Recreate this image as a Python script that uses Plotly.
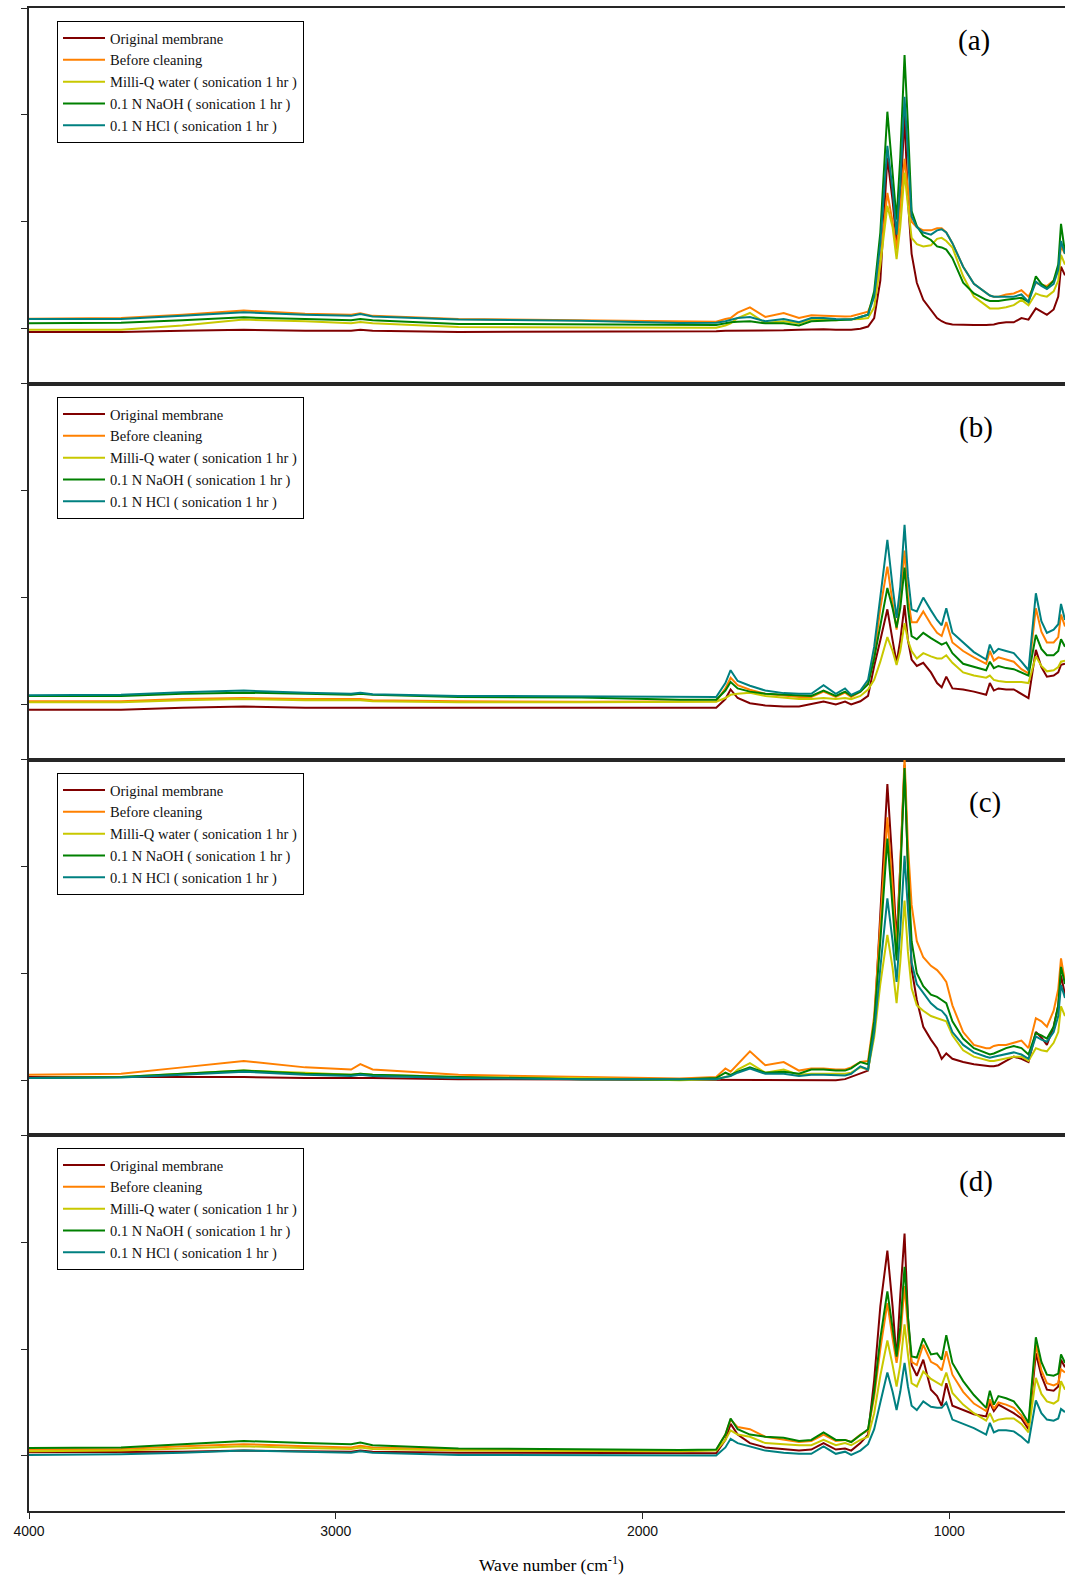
import plotly.graph_objects as go
from plotly.subplots import make_subplots

# ---------------- data ----------------
WAVENUMBER = [4000, 3700, 3500, 3300, 3100, 2950, 2920, 2880, 2600, 2200,
              1880, 1760, 1730, 1713, 1690, 1650, 1600, 1540, 1490, 1450,
              1410, 1370, 1340, 1320, 1290, 1265, 1245, 1225, 1202, 1185,
              1172, 1160, 1146, 1135, 1123, 1106, 1085, 1060, 1040, 1025,
              1010, 990, 955, 920, 880, 868, 855, 840, 815, 790,
              765, 742, 718, 700, 682, 660, 645, 636, 623]

SERIES_NAMES = ["Original membrane", "Before cleaning", "Milli-Q water ( sonication 1 hr )",
                "0.1 N NaOH ( sonication 1 hr )", "0.1 N HCl ( sonication 1 hr )"]
PANEL_LABELS = ["(a)", "(b)", "(c)", "(d)"]
X_TICKS = [4000, 3000, 2000, 1000]

# Panel (a)
A_ORIGINAL = [-0.03, -0.03, -0.02, -0.01, -0.02, -0.02, -0.01, -0.02, -0.03, -0.03,
              -0.025, -0.025, -0.02, -0.02, -0.02, -0.02, -0.02, -0.015, -0.01, -0.006,
              -0.006, -0.01, -0.01, -0.01, 0.0, 0.02, 0.1, 0.45, 1.6, 1.2,
              0.8, 1.2, 1.99, 1.2, 0.7, 0.43, 0.27, 0.17, 0.1, 0.07,
              0.05, 0.04, 0.035, 0.035, 0.035, 0.035, 0.04, 0.05, 0.06, 0.06,
              0.1, 0.085, 0.19, 0.16, 0.13, 0.18, 0.3, 0.58, 0.5]
A_BEFORE = [0.094, 0.10, 0.13, 0.17, 0.14, 0.13, 0.144, 0.12, 0.09, 0.075,
            0.063, 0.065, 0.09, 0.10, 0.15, 0.20, 0.11, 0.147, 0.10, 0.125,
            0.12, 0.115, 0.115, 0.116, 0.14, 0.16, 0.30, 0.65, 1.27, 1.0,
            0.74, 1.1, 1.59, 1.3, 1.0, 0.95, 0.92, 0.92, 0.94, 0.94,
            0.9, 0.8, 0.58, 0.42, 0.33, 0.31, 0.30, 0.30, 0.32, 0.33,
            0.36, 0.30, 0.43, 0.41, 0.40, 0.45, 0.55, 0.77, 0.70]
A_MILLIQ = [-0.01, -0.01, 0.03, 0.085, 0.07, 0.05, 0.063, 0.05, 0.015, 0.012,
            0.006, 0.01, 0.03, 0.05, 0.10, 0.147, 0.053, 0.07, 0.05, 0.085,
            0.085, 0.08, 0.085, 0.085, 0.09, 0.10, 0.20, 0.60, 1.15, 0.95,
            0.65, 0.95, 1.46, 1.15, 0.85, 0.79, 0.77, 0.78, 0.84, 0.85,
            0.82, 0.76, 0.49, 0.30, 0.21, 0.19, 0.19, 0.19, 0.20, 0.22,
            0.27, 0.22, 0.33, 0.31, 0.30, 0.35, 0.45, 0.69, 0.60]
A_NAOH = [0.05, 0.055, 0.08, 0.106, 0.09, 0.08, 0.09, 0.08, 0.045, 0.04,
          0.031, 0.035, 0.05, 0.06, 0.065, 0.069, 0.05, 0.05, 0.03, 0.069,
          0.075, 0.08, 0.085, 0.085, 0.11, 0.13, 0.35, 0.90, 2.03, 1.5,
          1.02, 1.6, 2.56, 1.9, 1.1, 0.96, 0.87, 0.83, 0.77, 0.76,
          0.74, 0.66, 0.43, 0.33, 0.27, 0.26, 0.26, 0.26, 0.27, 0.28,
          0.29, 0.25, 0.49, 0.42, 0.38, 0.45, 0.60, 0.98, 0.71]
A_HCL = [0.09, 0.09, 0.12, 0.153, 0.13, 0.12, 0.138, 0.115, 0.085, 0.075,
         0.053, 0.055, 0.07, 0.08, 0.10, 0.11, 0.069, 0.09, 0.06, 0.10,
         0.10, 0.09, 0.085, 0.085, 0.11, 0.13, 0.30, 0.80, 1.71, 1.3,
         0.88, 1.35, 2.17, 1.6, 1.05, 0.95, 0.90, 0.88, 0.92, 0.93,
         0.90, 0.80, 0.58, 0.42, 0.33, 0.31, 0.30, 0.30, 0.30, 0.30,
         0.32, 0.25, 0.44, 0.40, 0.37, 0.42, 0.55, 0.82, 0.70]

# Panel (b)
B_ORIGINAL = [-0.05, -0.05, -0.03, -0.02, -0.03, -0.03, -0.025, -0.03, -0.03, -0.03,
              -0.03, -0.03, 0.05, 0.14, 0.06, 0.012, -0.01, -0.02, -0.02, 0.0,
              0.027, 0.0, 0.027, 0.0, 0.03, 0.08, 0.36, 0.60, 0.89, 0.60,
              0.39, 0.60, 0.93, 0.60, 0.42, 0.36, 0.39, 0.30, 0.20, 0.16,
              0.26, 0.15, 0.14, 0.12, 0.09, 0.20, 0.13, 0.15, 0.14, 0.14,
              0.10, 0.06, 0.51, 0.35, 0.26, 0.27, 0.30, 0.37, 0.38]
B_BEFORE = [0.03, 0.03, 0.05, 0.06, 0.05, 0.045, 0.05, 0.04, 0.03, 0.025,
            0.027, 0.03, 0.15, 0.25, 0.18, 0.137, 0.10, 0.08, 0.07, 0.07,
            0.12, 0.07, 0.11, 0.07, 0.12, 0.20, 0.45, 0.90, 1.29, 0.95,
            0.70, 1.00, 1.44, 1.00, 0.77, 0.77, 0.87, 0.75, 0.67, 0.64,
            0.77, 0.58, 0.50, 0.44, 0.38, 0.50, 0.41, 0.44, 0.42, 0.40,
            0.33, 0.29, 0.90, 0.68, 0.58, 0.58, 0.63, 0.84, 0.73]
B_MILLIQ = [0.02, 0.02, 0.04, 0.05, 0.04, 0.035, 0.04, 0.03, 0.02, 0.02,
            0.02, 0.025, 0.06, 0.09, 0.10, 0.11, 0.08, 0.06, 0.05, 0.05,
            0.06, 0.05, 0.06, 0.05, 0.08, 0.14, 0.23, 0.40, 0.63, 0.50,
            0.37, 0.50, 0.76, 0.60, 0.50, 0.43, 0.48, 0.45, 0.43, 0.43,
            0.46, 0.39, 0.30, 0.27, 0.25, 0.27, 0.23, 0.22, 0.21, 0.21,
            0.21, 0.20, 0.45, 0.36, 0.31, 0.32, 0.35, 0.40, 0.41]
B_NAOH = [0.08, 0.08, 0.10, 0.11, 0.10, 0.09, 0.10, 0.09, 0.07, 0.065,
          0.043, 0.045, 0.13, 0.21, 0.15, 0.12, 0.10, 0.09, 0.08, 0.08,
          0.13, 0.08, 0.12, 0.08, 0.12, 0.19, 0.43, 0.75, 1.09, 0.90,
          0.72, 0.90, 1.28, 0.90, 0.64, 0.61, 0.67, 0.62, 0.59, 0.56,
          0.58, 0.48, 0.38, 0.35, 0.32, 0.40, 0.34, 0.36, 0.34, 0.33,
          0.30, 0.27, 0.65, 0.52, 0.46, 0.46, 0.50, 0.61, 0.54]
B_HCL = [0.085, 0.09, 0.115, 0.13, 0.11, 0.10, 0.11, 0.095, 0.08, 0.075,
         0.065, 0.07, 0.20, 0.32, 0.22, 0.175, 0.13, 0.106, 0.10, 0.10,
         0.18, 0.10, 0.15, 0.09, 0.13, 0.23, 0.54, 1.00, 1.54, 1.10,
         0.81, 1.10, 1.68, 1.20, 0.89, 0.87, 1.00, 0.88, 0.79, 0.74,
         0.90, 0.67, 0.58, 0.49, 0.42, 0.56, 0.48, 0.52, 0.50, 0.48,
         0.40, 0.32, 1.04, 0.78, 0.67, 0.70, 0.75, 0.94, 0.79]

# Panel (c)
C_ORIGINAL = [0.03, 0.03, 0.03, 0.03, 0.02, 0.02, 0.02, 0.02, 0.01, 0.005,
              0.0, 0.0, 0.0, 0.0, 0.0, 0.0, 0.0, 0.0, 0.0, 0.0,
              0.0, 0.0, 0.01, 0.03, 0.06, 0.09, 0.50, 1.50, 2.77, 2.0,
              1.29, 2.0, 2.95, 2.0, 1.04, 0.75, 0.50, 0.38, 0.30, 0.20,
              0.25, 0.20, 0.17, 0.15, 0.13, 0.13, 0.13, 0.14, 0.18, 0.22,
              0.20, 0.17, 0.45, 0.40, 0.33, 0.50, 0.70, 0.98, 0.80]
C_BEFORE = [0.05, 0.06, 0.12, 0.18, 0.12, 0.10, 0.15, 0.10, 0.05, 0.03,
            0.016, 0.03, 0.11, 0.08, 0.15, 0.27, 0.14, 0.17, 0.09, 0.11,
            0.11, 0.10, 0.10, 0.12, 0.17, 0.18, 0.60, 1.50, 2.46, 1.8,
            1.20, 2.0, 3.02, 2.2, 1.64, 1.30, 1.15, 1.07, 1.03, 0.98,
            0.92, 0.70, 0.45, 0.33, 0.30, 0.30, 0.32, 0.33, 0.33, 0.35,
            0.37, 0.30, 0.58, 0.55, 0.50, 0.65, 0.85, 1.14, 0.92]
C_MILLIQ = [0.02, 0.03, 0.06, 0.09, 0.07, 0.05, 0.06, 0.05, 0.03, 0.02,
            0.0, 0.01, 0.03, 0.04, 0.10, 0.16, 0.07, 0.10, 0.05, 0.06,
            0.06, 0.06, 0.06, 0.07, 0.12, 0.10, 0.40, 0.90, 1.36, 1.05,
            0.72, 1.10, 1.68, 1.20, 0.86, 0.70, 0.65, 0.60, 0.58, 0.57,
            0.55, 0.42, 0.28, 0.22, 0.19, 0.18, 0.18, 0.19, 0.20, 0.22,
            0.22, 0.18, 0.30, 0.28, 0.27, 0.35, 0.45, 0.69, 0.60]
C_NAOH = [0.02, 0.03, 0.06, 0.09, 0.06, 0.05, 0.06, 0.05, 0.03, 0.01,
          0.006, 0.02, 0.07, 0.05, 0.08, 0.12, 0.07, 0.08, 0.06, 0.10,
          0.10, 0.09, 0.09, 0.11, 0.17, 0.15, 0.55, 1.30, 2.26, 1.60,
          1.12, 1.90, 2.92, 2.00, 1.30, 1.00, 0.88, 0.80, 0.78, 0.75,
          0.72, 0.55, 0.39, 0.30, 0.25, 0.24, 0.25, 0.27, 0.30, 0.32,
          0.30, 0.24, 0.44, 0.42, 0.39, 0.50, 0.70, 1.06, 0.90]
C_HCL = [0.02, 0.025, 0.05, 0.08, 0.05, 0.04, 0.05, 0.04, 0.02, 0.01,
         0.01, 0.01, 0.03, 0.04, 0.07, 0.11, 0.06, 0.06, 0.04, 0.05,
         0.05, 0.045, 0.045, 0.06, 0.13, 0.10, 0.45, 1.05, 1.70, 1.30,
         0.92, 1.40, 2.10, 1.60, 1.10, 0.90, 0.82, 0.72, 0.67, 0.65,
         0.60, 0.45, 0.33, 0.26, 0.22, 0.21, 0.22, 0.23, 0.24, 0.26,
         0.24, 0.20, 0.41, 0.38, 0.36, 0.45, 0.60, 0.89, 0.77]

# Panel (d)
D_ORIGINAL = [0.035, 0.035, 0.04, 0.05, 0.045, 0.04, 0.05, 0.04, 0.03, 0.025,
              0.023, 0.025, 0.15, 0.30, 0.20, 0.12, 0.08, 0.06, 0.05, 0.06,
              0.12, 0.06, 0.07, 0.05, 0.12, 0.20, 0.71, 1.40, 1.92, 1.40,
              0.90, 1.50, 2.08, 1.30, 0.85, 0.75, 0.90, 0.62, 0.56, 0.47,
              0.68, 0.47, 0.43, 0.39, 0.37, 0.50, 0.42, 0.48, 0.44, 0.40,
              0.35, 0.25, 0.96, 0.75, 0.62, 0.61, 0.65, 0.90, 0.83]
D_BEFORE = [0.06, 0.065, 0.09, 0.11, 0.09, 0.08, 0.095, 0.08, 0.06, 0.05,
            0.05, 0.055, 0.20, 0.34, 0.27, 0.25, 0.18, 0.15, 0.13, 0.14,
            0.20, 0.14, 0.15, 0.13, 0.20, 0.24, 0.55, 1.00, 1.43, 1.10,
            0.87, 1.10, 1.59, 1.20, 0.88, 0.85, 1.04, 0.88, 0.85, 0.80,
            0.98, 0.76, 0.60, 0.49, 0.42, 0.53, 0.44, 0.50, 0.48, 0.45,
            0.38, 0.28, 1.04, 0.80, 0.68, 0.66, 0.68, 0.81, 0.78]
D_MILLIQ = [0.045, 0.05, 0.07, 0.09, 0.075, 0.065, 0.08, 0.065, 0.05, 0.045,
            0.045, 0.05, 0.15, 0.24, 0.20, 0.18, 0.12, 0.11, 0.10, 0.10,
            0.15, 0.10, 0.12, 0.10, 0.15, 0.18, 0.40, 0.75, 1.08, 0.85,
            0.65, 0.85, 1.23, 0.95, 0.68, 0.65, 0.79, 0.72, 0.69, 0.66,
            0.78, 0.59, 0.48, 0.40, 0.33, 0.40, 0.32, 0.34, 0.35, 0.35,
            0.30, 0.22, 0.73, 0.58, 0.51, 0.49, 0.52, 0.70, 0.62]
D_NAOH = [0.075, 0.08, 0.11, 0.14, 0.12, 0.11, 0.125, 0.10, 0.07, 0.06,
          0.055, 0.06, 0.20, 0.35, 0.25, 0.20, 0.18, 0.17, 0.14, 0.15,
          0.22, 0.15, 0.15, 0.13, 0.20, 0.25, 0.60, 1.10, 1.54, 1.20,
          0.93, 1.20, 1.77, 1.30, 0.93, 0.92, 1.10, 0.95, 0.96, 0.90,
          1.13, 0.87, 0.70, 0.57, 0.45, 0.61, 0.48, 0.56, 0.54, 0.51,
          0.42, 0.31, 1.11, 0.88, 0.76, 0.75, 0.77, 0.95, 0.87]
D_HCL = [0.01, 0.015, 0.03, 0.05, 0.04, 0.03, 0.045, 0.03, 0.01, 0.005,
         0.0, 0.005, 0.08, 0.16, 0.12, 0.09, 0.05, 0.03, 0.02, 0.02,
         0.09, 0.02, 0.04, 0.01, 0.05, 0.11, 0.25, 0.50, 0.78, 0.60,
         0.43, 0.60, 0.87, 0.65, 0.47, 0.43, 0.51, 0.46, 0.45, 0.45,
         0.50, 0.34, 0.30, 0.26, 0.20, 0.31, 0.22, 0.24, 0.24, 0.23,
         0.18, 0.12, 0.52, 0.40, 0.34, 0.33, 0.35, 0.44, 0.41]

PANELS = [
    [A_ORIGINAL, A_BEFORE, A_MILLIQ, A_NAOH, A_HCL],
    [B_ORIGINAL, B_BEFORE, B_MILLIQ, B_NAOH, B_HCL],
    [C_ORIGINAL, C_BEFORE, C_MILLIQ, C_NAOH, C_HCL],
    [D_ORIGINAL, D_BEFORE, D_MILLIQ, D_NAOH, D_HCL],
]

# ---------------- style ----------------
COLORS = ["#800000", "#FF8000", "#C8C800", "#008000", "#008080"]
SERIF = "Liberation Serif, Times New Roman, serif"
AXIS_COLOR = "#262626"

W, H = 1065, 1578
ML, MR, MT, MB = 29, 0, 8, 67

fig = make_subplots(rows=4, cols=1, shared_xaxes=True, vertical_spacing=0)

legend_names = ["legend", "legend2", "legend3", "legend4"]
for p, series in enumerate(PANELS):
    for s, vals in enumerate(series):
        assert len(vals) == len(WAVENUMBER)
        fig.add_trace(go.Scatter(
            x=WAVENUMBER, y=vals, mode="lines", name=SERIES_NAMES[s],
            line=dict(color=COLORS[s], width=2),
            legend=legend_names[p], showlegend=True,
        ), row=p + 1, col=1)

for r in range(1, 5):
    fig.update_xaxes(range=[4000, 623], showline=True, linecolor=AXIS_COLOR, linewidth=1.5,
                     mirror=True, showgrid=False, zeroline=False,
                     tickvals=X_TICKS, ticks="outside" if r == 4 else "",
                     ticklen=6, tickcolor=AXIS_COLOR,
                     showticklabels=(r == 4),
                     tickfont=dict(family="Liberation Sans Narrow, Liberation Sans, Arial", size=14, color="#111"),
                     row=r, col=1)
    fig.update_yaxes(range=[-0.515, 3.0], showline=True, linecolor=AXIS_COLOR, linewidth=1.5,
                     showgrid=False, zeroline=False, tickvals=[0, 1, 2, 3],
                     ticks="outside", ticklen=6, tickcolor=AXIS_COLOR,
                     showticklabels=False, row=r, col=1)

plot_h = H - MT - MB
plot_w = W - ML - MR

def px_x(x):
    return (x - ML) / plot_w

def px_y(y):
    return (H - MB - y) / plot_h

legend_tops = [21, 397, 773, 1148]
layout_legends = {}
for i, name in enumerate(legend_names):
    layout_legends[name] = dict(
        x=px_x(57), y=px_y(legend_tops[i]), xanchor="left", yanchor="top",
        bgcolor="white", bordercolor="#000", borderwidth=1,
        font=dict(family=SERIF, size=14.5, color="#111"),
        tracegroupgap=0, itemwidth=42,
    )

label_pos = [(974, 40), (976, 428), (985, 802), (976, 1181)]
annotations = []
for i, lab in enumerate(PANEL_LABELS):
    annotations.append(dict(
        text=lab, x=px_x(label_pos[i][0]), y=px_y(label_pos[i][1]),
        xref="paper", yref="paper", xanchor="center", yanchor="middle",
        showarrow=False, font=dict(family=SERIF, size=29, color="#000")))
annotations.append(dict(
    text="Wave number (cm<sup>-1</sup>)", x=px_x(551), y=px_y(1564),
    xref="paper", yref="paper", xanchor="center", yanchor="middle",
    showarrow=False, font=dict(family=SERIF, size=17.5, color="#000")))

fig.update_layout(
    width=W, height=H,
    margin=dict(l=ML, r=MR, t=MT, b=MB),
    paper_bgcolor="white", plot_bgcolor="white",
    annotations=annotations,
    **layout_legends,
)

fig.write_html("out.html")
